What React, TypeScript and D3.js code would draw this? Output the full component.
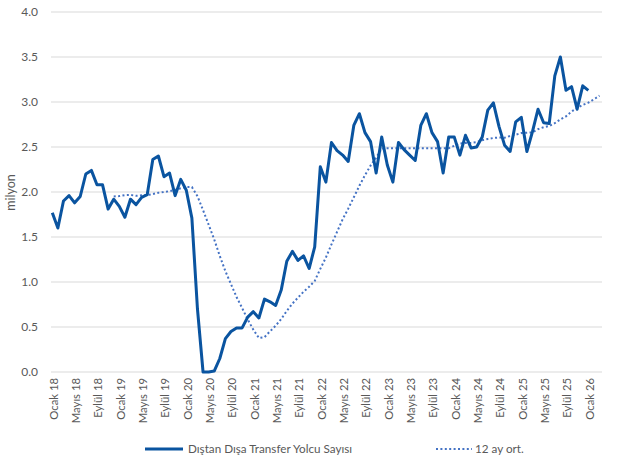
import React from "react";
import * as d3 from "d3";

const monthlyValues: number[] = [
  1.77, 1.60, 1.90, 1.96, 1.88, 1.95, 2.20, 2.24, 2.08, 2.08, 1.81, 1.92,
  1.84, 1.72, 1.92, 1.86, 1.94, 1.97, 2.36, 2.40, 2.17, 2.21, 1.96, 2.14,
  2.02, 1.71, 0.70, 0.00, 0.00, 0.01, 0.15, 0.37, 0.45, 0.49, 0.49, 0.61,
  0.67, 0.60, 0.81, 0.78, 0.74, 0.91, 1.23, 1.34, 1.24, 1.29, 1.15, 1.39,
  2.28, 2.11, 2.55, 2.46, 2.41, 2.34, 2.74, 2.87, 2.66, 2.56, 2.21, 2.61,
  2.30, 2.11, 2.55, 2.47, 2.41, 2.35, 2.74, 2.87, 2.66, 2.56, 2.21, 2.61,
  2.61, 2.41, 2.63, 2.49, 2.50, 2.61, 2.91, 2.99, 2.73, 2.52, 2.45, 2.78,
  2.83, 2.45, 2.67, 2.92, 2.77, 2.76, 3.29, 3.50, 3.13, 3.17, 2.92, 3.18,
  3.13,
];

// 12-month average, starting at Dec 2018 (month index 11)
const avgStartIndex = 11;
const avgValues: number[] = [
  1.95,
  1.955, 1.965, 1.967, 1.958, 1.963, 1.965, 1.978, 1.992, 1.999, 2.01, 2.022, 2.041,
  2.056, 2.055, 1.953, 1.798, 1.637, 1.473, 1.289, 1.12, 0.977, 0.833, 0.711, 0.583,
  0.471, 0.378, 0.387, 0.452, 0.514, 0.589, 0.679, 0.76, 0.826, 0.892, 0.947, 1.012,
  1.146, 1.272, 1.417, 1.557, 1.696, 1.815, 1.941, 2.069, 2.187, 2.293, 2.381, 2.483,
  2.485, 2.485, 2.485, 2.486, 2.486, 2.487, 2.487, 2.487, 2.487, 2.487, 2.487, 2.487,
  2.513, 2.538, 2.545, 2.546, 2.554, 2.576, 2.59, 2.6, 2.606, 2.603, 2.623, 2.637,
  2.655, 2.658, 2.662, 2.698, 2.72, 2.733, 2.765, 2.807, 2.84, 2.894, 2.933, 2.967,
  2.992, 3.03, 3.07,
];

const xTickLabels: string[] = [
  "Ocak 18", "Mayıs 18", "Eylül 18",
  "Ocak 19", "Mayıs 19", "Eylül 19",
  "Ocak 20", "Mayıs 20", "Eylül 20",
  "Ocak 21", "Mayıs 21", "Eylül 21",
  "Ocak 22", "Mayıs 22", "Eylül 22",
  "Ocak 23", "Mayıs 23", "Eylül 23",
  "Ocak 24", "Mayıs 24", "Eylül 24",
  "Ocak 25", "Mayıs 25", "Eylül 25",
  "Ocak 26",
];
const xTickStep = 4;
const yTicks: number[] = [0, 0.5, 1, 1.5, 2, 2.5, 3, 3.5, 4];

const seriesName = "Dıştan Dışa Transfer Yolcu Sayısı";
const avgName = "12 ay ort.";
const yTitle = "milyon";

const W = 623;
const H = 464;
const FONT = "Lato, 'Open Sans', sans-serif";
const TEXT = "#595959";
const LINE = "#0A54A0";
const DOT = "#4472C4";

export default function App() {
  const x = d3.scaleLinear().domain([0, 96]).range([52.3, 588.3]);
  const y = d3.scaleLinear().domain([0, 4]).range([372, 12]);
  const plotLeft = 51;
  const plotRight = 602;

  const lineGen = d3
    .line<number>()
    .x((_, i) => x(i))
    .y((d) => y(d));
  const avgGen = d3
    .line<number>()
    .x((_, i) => x(i + avgStartIndex))
    .y((d) => y(d));

  return (
    <svg
      width={W}
      height={H}
      style={{ position: "absolute", left: 0, top: 0, background: "#fff" }}
      fontFamily={FONT}
    >
      {yTicks.map((t) => (
        <g key={t}>
          <line
            x1={plotLeft}
            x2={plotRight}
            y1={y(t)}
            y2={y(t)}
            stroke="#d9d9d9"
            strokeWidth={1}
          />
          <text
            x={38}
            y={y(t)}
            dy="0.35em"
            textAnchor="end"
            fontSize={12}
            fill={TEXT}
          >
            {t.toFixed(1)}
          </text>
        </g>
      ))}
      <text
        transform={`translate(11, ${y(2) + 0.5}) rotate(-90)`}
        textAnchor="middle"
        dy="0.35em"
        fontSize={12.5}
        fill={TEXT}
      >
        {yTitle}
      </text>
      {xTickLabels.map((lab, k) => {
        const px = x(k * xTickStep) + 1.5;
        return (
          <text
            key={lab}
            transform={`translate(${px}, 378) rotate(-90)`}
            textAnchor="end"
            dy="0.35em"
            fontSize={11.3}
            fill={TEXT}
          >
            {lab}
          </text>
        );
      })}
      <path
        d={avgGen(avgValues) || ""}
        fill="none"
        stroke={DOT}
        strokeWidth={2}
        strokeDasharray="2 2.4"
      />
      <path
        d={lineGen(monthlyValues) || ""}
        fill="none"
        stroke={LINE}
        strokeWidth={3}
        strokeLinejoin="round"
      />
      <g>
        <line x1={145} x2={183} y1={449} y2={449} stroke={LINE} strokeWidth={3} />
        <text x={188} y={449} dy="0.35em" fontSize={11.7} fill={TEXT}>
          {seriesName}
        </text>
        <line
          x1={436}
          x2={472}
          y1={449}
          y2={449}
          stroke={DOT}
          strokeWidth={2}
          strokeDasharray="2 2.4"
        />
        <text x={475} y={449} dy="0.35em" fontSize={11.7} fill={TEXT}>
          {avgName}
        </text>
      </g>
    </svg>
  );
}
